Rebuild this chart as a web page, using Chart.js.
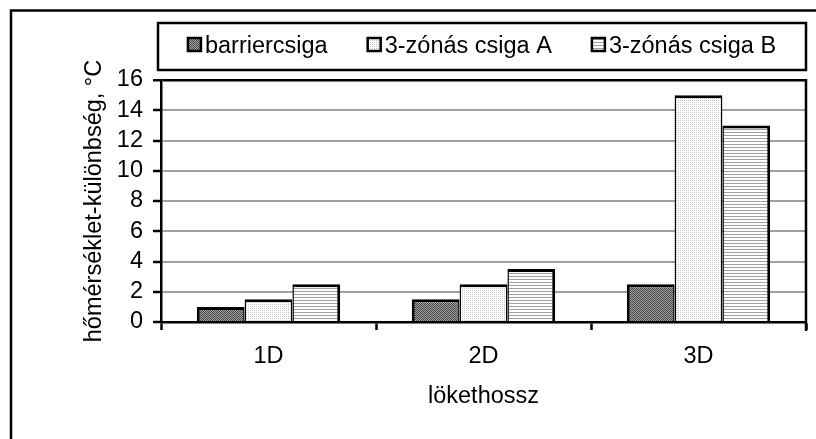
<!DOCTYPE html>
<html><head><meta charset="utf-8">
<script src="https://cdn.jsdelivr.net/npm/chart.js@4"></script>
<style>html,body{margin:0;padding:0;background:#fff;}canvas{display:block;}</style>
</head><body>
<canvas id="c" width="816" height="439"></canvas>
<script>
const categories = ['1D', '2D', '3D'];
const seriesNames = ['barriercsiga', '3-zónás csiga A', '3-zónás csiga B'];
const barrierValues = [1, 1.5, 2.5];
const zonasAValues = [1.5, 2.5, 15];
const zonasBValues = [2.5, 3.5, 13];
const yTickValues = [0, 2, 4, 6, 8, 10, 12, 14, 16];
const xAxisTitle = 'lökethossz';
const yAxisTitle = 'hőmérséklet-különbség, °C';

const FONT = '"Liberation Sans", Arial, sans-serif';
const FSIZE = 23.5;

function makePattern(w, h, draw) {
  const c = document.createElement('canvas');
  c.width = w; c.height = h;
  const x = c.getContext('2d');
  draw(x);
  return x.createPattern(c, 'repeat');
}
const ctx0 = document.getElementById('c').getContext('2d');
const patBarrier = makePattern(2, 2, x => {
  x.fillStyle = '#a0a0a0'; x.fillRect(0, 0, 2, 2);
  x.fillStyle = '#4a4a4a'; x.fillRect(0, 0, 1, 1); x.fillRect(1, 1, 1, 1);
});
const patA = makePattern(2, 2, x => {
  x.fillStyle = '#ffffff'; x.fillRect(0, 0, 2, 2);
  x.fillStyle = '#c4c4c4'; x.fillRect(0, 0, 1, 1);
});
const patB = makePattern(1, 3, x => {
  x.fillStyle = '#ffffff'; x.fillRect(0, 0, 1, 3);
  x.fillStyle = '#a0a0a0'; x.fillRect(0, 0, 1, 1);
});

const framePlugin = {
  id: 'frameLegend',
  beforeDraw(chart) {
    const ctx = chart.ctx;
    ctx.save();
    ctx.strokeStyle = '#000'; ctx.lineWidth = 2.5;
    ctx.strokeRect(11, 10.5, 2000, 2000);
    ctx.restore();
  },
  afterDraw(chart) {
    const { ctx, chartArea: ca } = chart;
    ctx.save();
    ctx.strokeStyle = '#000'; ctx.lineWidth = 2.5;
    ctx.beginPath(); ctx.moveTo(ca.right, ca.top - 1); ctx.lineTo(ca.right, ca.bottom + 9); ctx.stroke();
    const L = ca.left - 3, R = ca.right, T = 23, B = 70;
    ctx.strokeRect(L, T, R - L, B - T);
    ctx.font = FSIZE + 'px ' + FONT;
    const box = 13, gap = 4, sep = 40;
    const items = chart.data.datasets.map(ds => ({
      text: ds.label, fill: ds.backgroundColor,
      w: box + gap + ctx.measureText(ds.label).width
    }));
    const total = items.reduce((a, i) => a + i.w, 0) + sep * (items.length - 1);
    let x = (L + R) / 2 - total / 2;
    const cy = (T + B) / 2;
    items.forEach(it => {
      ctx.fillStyle = it.fill;
      ctx.fillRect(x, cy - box / 2 - 2, box, box);
      ctx.lineWidth = 2.5; ctx.strokeStyle = '#000';
      ctx.strokeRect(x, cy - box / 2 - 2, box, box);
      ctx.fillStyle = '#000'; ctx.textBaseline = 'middle'; ctx.textAlign = 'left';
      ctx.fillText(it.text, x + box + gap, cy);
      x += it.w + sep;
    });
    ctx.restore();
  }
};

Chart.defaults.font.family = FONT;
Chart.defaults.font.size = FSIZE;
Chart.defaults.color = '#000';

new Chart(ctx0, {
  type: 'bar',
  data: {
    labels: categories,
    datasets: [
      { label: seriesNames[0], data: barrierValues, backgroundColor: patBarrier, borderColor: '#000',
        borderWidth: { top: 3, left: 3, right: 1.5, bottom: 0 } },
      { label: seriesNames[1], data: zonasAValues, backgroundColor: patA, borderColor: '#000',
        borderWidth: { top: 3, left: 1.5, right: 1.5, bottom: 0 } },
      { label: seriesNames[2], data: zonasBValues, backgroundColor: patB, borderColor: '#000',
        borderWidth: { top: 3, left: 1.5, right: 3, bottom: 0 } }
    ]
  },
  options: {
    responsive: false, animation: false, devicePixelRatio: 1,
    layout: { padding: { top: 80, left: 0, right: 10, bottom: 0 } },
    plugins: { legend: { display: false }, tooltip: { enabled: false } },
    datasets: { bar: { categoryPercentage: 0.667, barPercentage: 1, inflateAmount: 0 } },
    scales: {
      x: {
        offset: true,
        grid: { display: true, offset: true, drawOnChartArea: false, drawTicks: true,
                tickLength: 8, tickColor: '#000', tickWidth: 2.5, color: '#000' },
        border: { display: true, color: '#000', width: 2.5 },
        ticks: { padding: 12, maxRotation: 0, autoSkip: false },
        title: { display: true, text: xAxisTitle, padding: { top: 0, bottom: 28 } },
        afterFit: s => { s.height = 117; }
      },
      y: {
        min: yTickValues[0], max: yTickValues[yTickValues.length - 1],
        afterBuildTicks: s => { s.ticks = yTickValues.map(v => ({ value: v })); },
        grid: { color: c => (c.tick && c.tick.value === yTickValues[yTickValues.length - 1]) ? '#000' : '#a0a0a0',
                lineWidth: c => (c.tick && c.tick.value === yTickValues[yTickValues.length - 1]) ? 2.5 : 2,
                drawTicks: true, tickLength: 8, tickColor: '#000', tickWidth: 2.5 },
        border: { display: true, color: '#000', width: 2.5 },
        ticks: { padding: 10, autoSkip: false },
        title: { display: true, text: yAxisTitle, padding: { top: 80, bottom: 0 } },
        afterFit: s => { s.width = 161; }
      }
    }
  },
  plugins: [framePlugin]
});
</script>
</body></html>
